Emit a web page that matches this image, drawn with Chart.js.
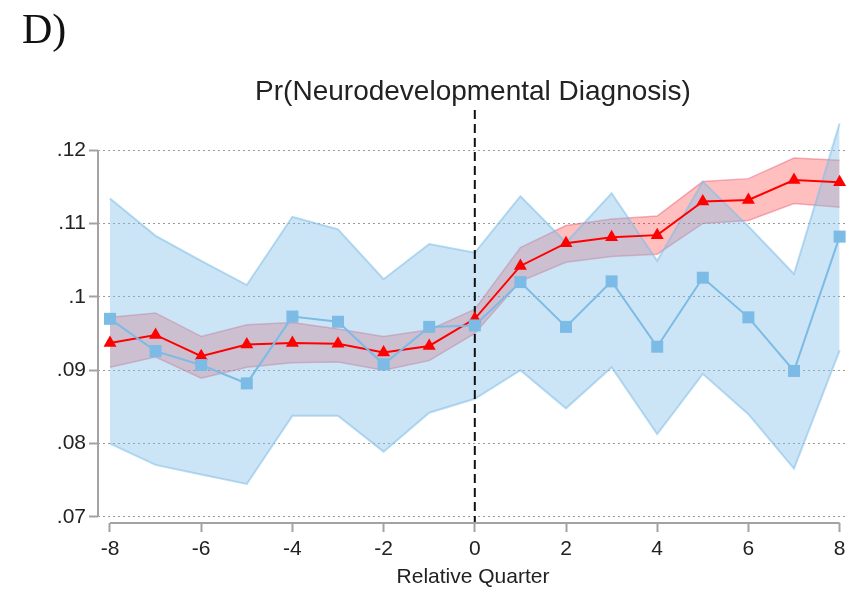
<!DOCTYPE html>
<html>
<head>
<meta charset="utf-8">
<script src="https://cdn.jsdelivr.net/npm/chart.js@4/dist/chart.umd.min.js"></script>
<style>
  html, body { margin: 0; padding: 0; background: #fff; }
  #wrap { position: relative; width: 851px; height: 592px; }
  #panel { position: absolute; left: 22px; top: 8px; font: 42px "Liberation Serif", "Times New Roman", serif; color: #111; line-height: 1; }
  canvas { position: absolute; left: 0; top: 0; }
</style>
</head>
<body>
<div id="wrap">
  <canvas id="grafico" width="851" height="592"></canvas>
  <div id="panel">D)</div>
</div>
<script>
// trimestres relativos al evento
const quarters = [-8, -7, -6, -5, -4, -3, -2, -1, 0, 1, 2, 3, 4, 5, 6, 7, 8];

// serie azul (cuadrados) y su intervalo
const blueEst = [.0970, .0926, .0907, .0882, .0973, .0966, .0908, .0959, .0961, .1020, .0959, .1021, .0932, .1026, .0972, .0899, .1082];
const blueHi  = [.1134, .1083, .1049, .1016, .1109, .1092, .1024, .1072, .1060, .1137, .1074, .1141, .1049, .1157, .1096, .1031, .1236];
const blueLo  = [.0800, .0771, .0758, .0745, .0838, .0838, .0789, .0842, .0861, .0900, .0848, .0904, .0813, .0895, .0840, .0766, .0927];

// serie roja (triangulos) y su intervalo
const redEst = [.0937, .0948, .0919, .0935, .0937, .0936, .0924, .0933, .0970, .1042, .1073, .1081, .1084, .1130, .1132, .1159, .1156];
const redHi  = [.0972, .0978, .0946, .0962, .0965, .0956, .0946, .0955, .0983, .1067, .1097, .1106, .1110, .1157, .1161, .1189, .1186];
const redLo  = [.0904, .0918, .0889, .0904, .0910, .0911, .0900, .0913, .0950, .1021, .1047, .1055, .1058, .1100, .1104, .1127, .1122];

const xTicks = [-8, -6, -4, -2, 0, 2, 4, 6, 8];
const yTicks = [.07, .08, .09, .1, .11, .12];
const yTickLabels = ['.07', '.08', '.09', '.1', '.11', '.12'];

const FONT = '"Liberation Sans", Arial, sans-serif';
const AXIS_GREY = '#a3a3a3';

function pts(values) {
  return quarters.map((q, i) => ({ x: q, y: values[i] }));
}

// lineas de ejes estilo Stata (solo entre primer y ultimo tick) + linea vertical en 0
const ejesPlugin = {
  id: 'ejes',
  afterDatasetDraw(chart, args) {
    if (args.index !== 3) return;
    const { ctx, chartArea, scales } = chart;
    const x0 = scales.x.getPixelForValue(0);
    ctx.save();
    ctx.strokeStyle = '#111';
    ctx.lineWidth = 2;
    ctx.setLineDash([9, 5]);
    ctx.beginPath();
    ctx.moveTo(x0, chartArea.top);
    ctx.lineTo(x0, chartArea.bottom);
    ctx.stroke();
    ctx.restore();
  },
  afterDraw(chart) {
    const { ctx, chartArea, scales } = chart;
    ctx.save();
    ctx.strokeStyle = AXIS_GREY;
    ctx.lineWidth = 2;
    ctx.beginPath();
    ctx.moveTo(chartArea.left, scales.y.getPixelForValue(yTicks[0]));
    ctx.lineTo(chartArea.left, scales.y.getPixelForValue(yTicks[yTicks.length - 1]));
    ctx.moveTo(scales.x.getPixelForValue(xTicks[0]), chartArea.bottom);
    ctx.lineTo(scales.x.getPixelForValue(xTicks[xTicks.length - 1]), chartArea.bottom);
    ctx.stroke();
    ctx.restore();
  }
};

new Chart(document.getElementById('grafico'), {
  type: 'line',
  data: {
    datasets: [
      {
        data: pts(redHi), fill: '+1', order: 6,
        backgroundColor: 'rgba(255,0,0,0.25)', borderColor: 'rgba(225,70,95,0.4)', borderWidth: 1.5,
        pointRadius: 0, tension: 0
      },
      {
        data: pts(redLo), fill: false, order: 5,
        borderColor: 'rgba(225,70,95,0.4)', borderWidth: 1.5,
        pointRadius: 0, tension: 0
      },
      {
        data: pts(blueHi), fill: '+1', order: 4,
        backgroundColor: 'rgba(128,189,232,0.4)', borderColor: 'rgba(128,189,232,0.55)', borderWidth: 2,
        pointRadius: 0, tension: 0
      },
      {
        data: pts(blueLo), fill: false, order: 3,
        borderColor: 'rgba(128,189,232,0.55)', borderWidth: 2,
        pointRadius: 0, tension: 0
      },
      {
        data: pts(redEst), fill: false, order: 2,
        borderColor: '#ff0000', borderWidth: 2, tension: 0,
        pointStyle: 'triangle', pointRadius: 7.5, pointBackgroundColor: '#ff0000', pointBorderWidth: 0
      },
      {
        data: pts(blueEst), fill: false, order: 1,
        borderColor: '#7cbbe6', borderWidth: 2, tension: 0,
        pointStyle: 'rect', pointRadius: 8.5, pointBackgroundColor: '#7cbbe6', pointBorderWidth: 0
      }
    ]
  },
  options: {
    responsive: false,
    animation: false,
    // sin autoPadding: el area del grafico la fijamos a mano
    layout: { autoPadding: false, padding: { left: 0, right: 3, top: 0, bottom: 0 } },
    plugins: {
      legend: { display: false },
      tooltip: { enabled: false },
      title: {
        display: true,
        fullSize: false,
        text: 'Pr(Neurodevelopmental Diagnosis)',
        color: '#222',
        font: { family: FONT, size: 28, weight: 'normal', lineHeight: 1 },
        padding: { top: 78, bottom: 4 }
      }
    },
    scales: {
      x: {
        type: 'linear',
        min: -8.263,
        max: 8.184,
        afterBuildTicks: axis => { axis.ticks = xTicks.map(v => ({ value: v })); },
        afterFit: axis => { axis.height = 69; },
        grid: { drawOnChartArea: false, drawTicks: true, tickLength: 9, tickColor: AXIS_GREY, tickWidth: 2 },
        border: { display: false },
        ticks: { color: '#222', font: { family: FONT, size: 21 }, padding: 5, maxRotation: 0 },
        title: {
          display: true,
          text: 'Relative Quarter',
          color: '#222',
          font: { family: FONT, size: 21, lineHeight: 1.2 },
          padding: { top: 0, bottom: 2 }
        }
      },
      y: {
        min: 0.06918,
        max: 0.12545,
        afterBuildTicks: axis => { axis.ticks = yTicks.map(v => ({ value: v })); },
        afterFit: axis => { axis.width = 98; },
        grid: {
          color: '#9a9a9a', lineWidth: 1,
          drawTicks: true, tickLength: 9, tickColor: AXIS_GREY, tickWidth: 2, tickBorderDash: []
        },
        border: { display: false, dash: [2, 3] },
        ticks: {
          color: '#222',
          font: { family: FONT, size: 21 },
          padding: 3,
          callback: (value, i) => yTickLabels[i]
        }
      }
    }
  },
  plugins: [ejesPlugin]
});
</script>
</body>
</html>
